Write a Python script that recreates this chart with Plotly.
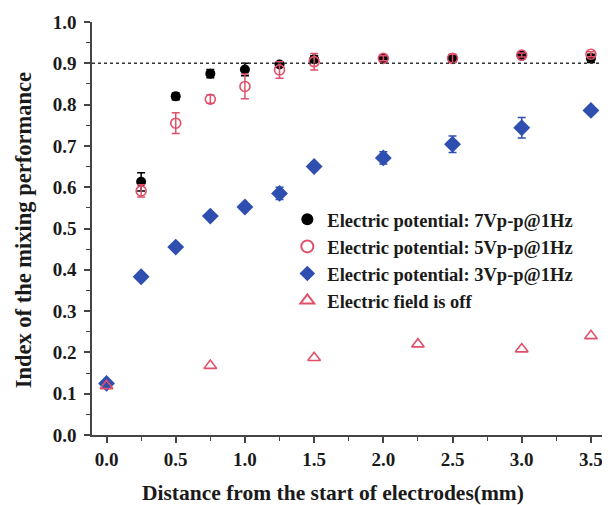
import plotly.graph_objects as go

x_7v = [0.25, 0.5, 0.75, 1.0, 1.25, 1.5, 2.0, 2.5, 3.0, 3.5]
y_7v = [0.613, 0.820, 0.875, 0.885, 0.897, 0.910, 0.912, 0.912, 0.918, 0.912]
e_7v = [0.022, 0.008, 0.010, 0.015, 0.005, 0.008, 0.006, 0.008, 0.005, 0.010]

x_5v = [0.25, 0.5, 0.75, 1.0, 1.25, 1.5, 2.0, 2.5, 3.0, 3.5]
y_5v = [0.591, 0.755, 0.813, 0.844, 0.884, 0.904, 0.912, 0.912, 0.920, 0.922]
e_5v = [0.015, 0.025, 0.010, 0.030, 0.020, 0.020, 0.006, 0.010, 0.005, 0.006]

x_3v = [0.0, 0.25, 0.5, 0.75, 1.0, 1.25, 1.5, 2.0, 2.5, 3.0, 3.5]
y_3v = [0.125, 0.383, 0.455, 0.530, 0.552, 0.585, 0.650, 0.671, 0.704, 0.744, 0.786]
e_3v = [0.005, 0.005, 0.005, 0.005, 0.005, 0.015, 0.008, 0.015, 0.020, 0.025, 0.008]

x_off = [0.0, 0.75, 1.5, 2.25, 3.0, 3.5]
y_off = [0.119, 0.168, 0.187, 0.220, 0.208, 0.240]

names = ["Electric potential: 7Vp-p@1Hz", "Electric potential: 5Vp-p@1Hz",
         "Electric potential: 3Vp-p@1Hz", "Electric field is off"]

x_title = "Distance from the start of electrodes(mm)"
y_title = "Index of the mixing performance"

x_ticks = [0.0, 0.5, 1.0, 1.5, 2.0, 2.5, 3.0, 3.5]
y_ticks = [0.0, 0.1, 0.2, 0.3, 0.4, 0.5, 0.6, 0.7, 0.8, 0.9, 1.0]
ref_level = 0.9

RED = "#e0506a"
BLUE = "#2f4fb0"
FONT = "Liberation Serif"
TXT = "#1a1a1a"

fig = go.Figure()
fig.add_trace(go.Scatter(
    x=x_7v, y=y_7v, mode="markers", name=names[0],
    marker=dict(symbol="circle", size=10, color="black"),
    error_y=dict(type="data", array=e_7v, color="black", thickness=1.5, width=4)))
fig.add_trace(go.Scatter(
    x=x_5v, y=y_5v, mode="markers", name=names[1],
    marker=dict(symbol="circle-open", size=10, color=RED, line=dict(width=1.6)),
    error_y=dict(type="data", array=e_5v, color=RED, thickness=1.5, width=4)))
fig.add_trace(go.Scatter(
    x=x_3v, y=y_3v, mode="markers", name=names[2],
    marker=dict(symbol="diamond", size=13, color=BLUE),
    error_y=dict(type="data", array=e_3v, color=BLUE, thickness=1.5, width=4)))
fig.add_trace(go.Scatter(
    x=x_off, y=y_off, mode="markers", name=names[3],
    marker=dict(symbol="triangle-up-open", size=11, color=RED, line=dict(width=1.6))))

fig.add_shape(type="line", xref="paper", yref="y", x0=0, x1=1.016,
              y0=ref_level, y1=ref_level,
              line=dict(color="#333333", width=1.5, dash="dot"))

axis_common = dict(
    showline=True, linecolor="#444444", linewidth=1.5,
    ticks="outside", ticklen=6, tickwidth=1.5, tickcolor="#444444",
    showgrid=False, zeroline=False, automargin=False,
    tickfont=dict(family=FONT, size=19, color=TXT, weight="bold"),
)

fig.update_xaxes(
    range=[-0.105, 3.58], tickvals=x_ticks,
    ticktext=[f"{v:.1f}" for v in x_ticks],
    minor=dict(dtick=0.25, tick0=0, ticks="outside", ticklen=4, tickcolor="#444444", tickwidth=1.2),
    **axis_common)
fig.update_yaxes(
    range=[0, 1.0], tickvals=y_ticks,
    ticktext=[f"{v:.1f}" for v in y_ticks],
    minor=dict(dtick=0.05, tick0=0, ticks="outside", ticklen=4, tickcolor="#444444", tickwidth=1.2),
    ticklabelstandoff=4,
    **axis_common)

fig.add_annotation(text=x_title, xref="paper", yref="paper", x=0.4725, y=-0.1404,
                   xanchor="center", yanchor="middle", showarrow=False,
                   font=dict(family=FONT, size=21.5, color=TXT, weight="bold"))
fig.add_annotation(text=y_title, xref="paper", yref="paper", x=-0.135, y=0.496,
                   xanchor="center", yanchor="middle", showarrow=False, textangle=-90,
                   font=dict(family=FONT, size=22.5, color=TXT, weight="bold"))

# the page body adds an 8px offset; margins compensate for it
fig.update_layout(
    width=610, height=505,
    margin=dict(l=84, r=16, t=14, b=78),
    plot_bgcolor="white", paper_bgcolor="white",
    legend=dict(x=0.383, y=0.567, xanchor="left", yanchor="top",
                bgcolor="rgba(0,0,0,0)",
                font=dict(family=FONT, size=18.5, color=TXT, weight="bold"),
                itemsizing="constant", tracegroupgap=0),
    showlegend=True,
)

fig.write_html("out.html")
